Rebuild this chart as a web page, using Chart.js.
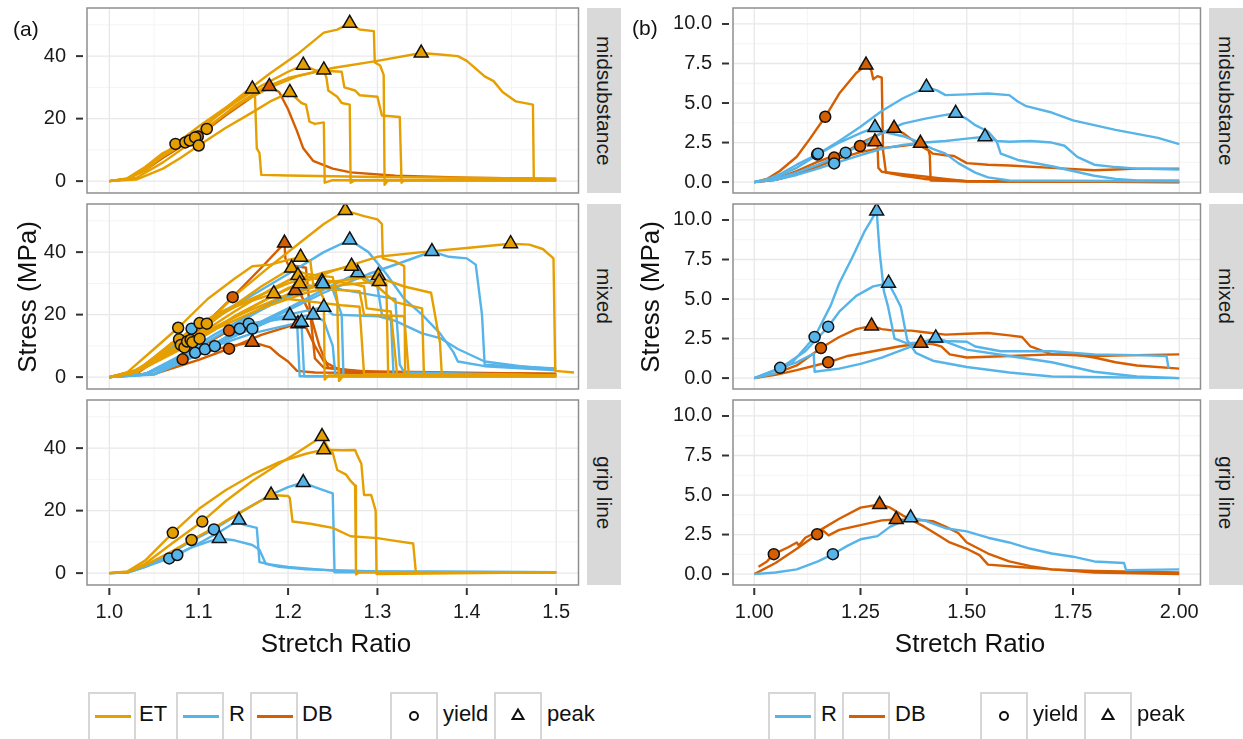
<!DOCTYPE html>
<html><head><meta charset="utf-8">
<script src="https://cdn.jsdelivr.net/npm/chart.js@4.4.1/dist/chart.umd.min.js"></script>
<style>
html,body{margin:0;padding:0;background:#fff;}
body{width:1243px;height:739px;overflow:hidden;position:relative;font-family:"Liberation Sans",Arial,Helvetica,sans-serif;color:#111;}
canvas{position:absolute;}
.strip{position:absolute;background:#D9D9D9;display:flex;align-items:center;justify-content:center;}
.strip span{writing-mode:vertical-rl;font-size:21px;color:#1a1a1a;white-space:nowrap;}
.lbl{position:absolute;font-size:21px;line-height:1;white-space:nowrap;}
.ttl{position:absolute;font-size:26px;line-height:1;white-space:nowrap;transform:translate(-50%,-50%);}
.ttlv{position:absolute;font-size:26px;line-height:1;white-space:nowrap;transform:translate(-50%,-50%) rotate(-90deg);}
.lgbox{position:absolute;top:692px;width:44px;height:60px;border:2px solid #D6D6D6;box-sizing:content-box;}
.lgline{position:absolute;left:5px;top:21px;width:36px;height:2.5px;}
.lgtxt{position:absolute;top:703px;font-size:22px;line-height:1;white-space:nowrap;}
</style></head><body>
<script>
// ---------------- shared ----------------
const COL = {ET:'#E69F00', R:'#56B4E9', DB:'#D55E00'};
const facetNames = ['midsubstance','mixed','grip line'];
const xTicksA = [1.0,1.1,1.2,1.3,1.4,1.5];
const xMinorA = [1.05,1.15,1.25,1.35,1.45];
const yTicksA = [0,20,40];
const yMinorA = [10,30,50];
const xTicksB = [1.0,1.25,1.5,1.75,2.0];
const xMinorB = [1.125,1.375,1.625,1.875];
const yTicksB = [0,2.5,5,7.5,10];
const yMinorB = [1.25,3.75,6.25,8.75];

// ---------------- (a) midsubstance ----------------
const aMidET = [
 [[1,0],[1.02,0.6],[1.04,3.5],[1.06,8],[1.074,11.9],[1.1,17.5],[1.13,23.5],[1.16,29.5],[1.163,27],[1.165,10.5],[1.168,9],[1.17,2],[1.2,1.8],[1.3,1.3],[1.5,0.8]],
 [[1,0],[1.03,0.5],[1.06,4],[1.08,7.5],[1.1,11.4],[1.13,17],[1.16,22],[1.18,25.5],[1.202,28.4],[1.215,25],[1.22,24.5],[1.224,19],[1.23,18.3],[1.24,18.8],[1.241,-0.5],[1.25,0.3],[1.5,0.3]],
 [[1,0],[1.02,0.8],[1.04,4],[1.06,8.5],[1.085,12.4],[1.11,18.5],[1.14,25],[1.17,30.5],[1.2,35],[1.217,37.1],[1.23,35.5],[1.26,35],[1.263,30],[1.275,29],[1.28,27.5],[1.3,27],[1.305,21],[1.325,20.5],[1.327,-0.5],[1.33,0.3],[1.5,0.3]],
 [[1,0],[1.02,0.7],[1.04,3.8],[1.06,8],[1.09,13],[1.12,19.5],[1.15,25.5],[1.18,30],[1.21,33.5],[1.24,35.6],[1.243,33],[1.245,29],[1.255,27],[1.26,25],[1.269,24.5],[1.27,-0.5],[1.275,0.3],[1.5,0.3]],
 [[1,0],[1.02,0.9],[1.04,4.5],[1.06,9],[1.096,14],[1.12,21],[1.15,28],[1.18,34.5],[1.21,40.5],[1.24,47.5],[1.255,48.5],[1.269,50.5],[1.28,48.5],[1.296,48],[1.297,38],[1.303,37],[1.307,34],[1.308,-1.2],[1.312,0.3],[1.5,0.3]],
 [[1,0],[1.03,1],[1.06,6],[1.09,12],[1.109,16.7],[1.14,24],[1.17,29.5],[1.2,33],[1.25,36.2],[1.3,38.5],[1.349,41],[1.37,40.5],[1.39,40],[1.4,38.5],[1.41,36],[1.42,33.5],[1.43,32],[1.44,28.5],[1.455,25.5],[1.474,24.5],[1.475,0.5],[1.5,0.5]]
];
const aMidDB = [
 [[1,0],[1.02,0.7],[1.04,3.5],[1.06,7.5],[1.08,11],[1.099,14.3],[1.13,21],[1.16,27],[1.179,30.3],[1.19,28.5],[1.2,23],[1.21,16],[1.217,10.5],[1.228,6.5],[1.25,4],[1.27,2.8],[1.32,1.7],[1.4,1.1],[1.5,0.7]]
];
const aMidYieldET = [[1.074,11.9],[1.085,12.4],[1.09,13.0],[1.096,14.0],[1.1,11.4],[1.109,16.7]];
const aMidYieldDB = [[1.099,14.3]];

// ---------------- (a) mixed ----------------
const aMixET = [
 [[1,0],[1.02,0.8],[1.04,4],[1.07,11],[1.109,17.1],[1.14,26],[1.18,35.5],[1.22,44.5],[1.24,49],[1.264,53.3],[1.285,51.5],[1.3,50.5],[1.305,49],[1.306,38],[1.32,37],[1.33,35.5],[1.331,1],[1.4,0.6],[1.5,0.5]],
 [[1,0],[1.03,1.5],[1.07,8],[1.101,12.3],[1.15,21],[1.2,28.5],[1.25,34],[1.3,38.5],[1.35,40],[1.4,41.3],[1.449,42.7],[1.47,42.4],[1.485,41],[1.497,38],[1.499,2],[1.52,1.5]],
 [[1,0],[1.02,1.5],[1.05,9],[1.077,15.8],[1.11,25],[1.14,31.5],[1.16,35.5],[1.18,36],[1.2,37.5],[1.214,38.4],[1.225,37],[1.228,30],[1.235,28],[1.24,25],[1.241,-0.8],[1.245,0.5],[1.5,0.3]],
 [[1,0],[1.03,2],[1.06,7.5],[1.087,11.4],[1.13,21],[1.17,29],[1.204,34.9],[1.22,33],[1.25,32],[1.255,25],[1.257,-1.2],[1.262,0.5],[1.5,0.4]],
 [[1,0],[1.03,1.5],[1.06,7],[1.091,11.9],[1.14,21],[1.18,28],[1.211,32.5],[1.24,31],[1.27,30],[1.285,29],[1.288,22],[1.315,21],[1.322,1],[1.5,0.5]],
 [[1,0],[1.03,1.5],[1.06,7],[1.093,11.2],[1.14,19.5],[1.18,25.5],[1.213,29.9],[1.25,28],[1.28,27.5],[1.285,20],[1.33,19.5],[1.335,1],[1.5,0.5]],
 [[1,0],[1.03,2],[1.06,8.5],[1.078,12.1],[1.1,16],[1.15,24],[1.2,30],[1.24,33.5],[1.271,35.5],[1.285,31],[1.3,29],[1.32,24],[1.35,22],[1.352,1],[1.5,0.5]],
 [[1,0],[1.03,1.5],[1.06,6.5],[1.08,10.3],[1.1,13.5],[1.15,20.5],[1.2,26.5],[1.25,30.5],[1.301,32.5],[1.31,31],[1.33,29],[1.36,27],[1.37,11],[1.372,1],[1.5,0.5]],
 [[1,0],[1.04,3],[1.084,9.5],[1.12,15.5],[1.17,22],[1.22,27],[1.26,29.5],[1.302,30.6],[1.31,30],[1.312,1],[1.5,0.5]],
 [[1,0],[1.03,2],[1.06,8],[1.101,17.3],[1.13,21.5],[1.16,24.5],[1.184,26.7],[1.2,25],[1.23,24],[1.26,23],[1.28,22.5],[1.285,1],[1.5,0.5]]
];
const aMixR = [
 [[1,0],[1.03,1.5],[1.06,7],[1.092,15.5],[1.12,20],[1.15,24.5],[1.2,33],[1.24,40],[1.269,43.9],[1.29,40],[1.31,33],[1.33,25],[1.35,20],[1.37,14],[1.385,8],[1.39,5],[1.42,3.5],[1.46,2.8],[1.5,2.2]],
 [[1,0],[1.04,1],[1.07,4.5],[1.096,7.8],[1.14,13],[1.19,20],[1.24,27],[1.29,33],[1.33,37],[1.361,40.2],[1.38,38.5],[1.4,38],[1.41,36],[1.417,20],[1.42,4],[1.45,3.5],[1.5,2.8]],
 [[1,0],[1.04,1],[1.08,6.5],[1.12,13],[1.16,20],[1.2,26],[1.238,30.6],[1.25,28],[1.26,20],[1.262,0.3],[1.5,0.3]],
 [[1,0],[1.04,1],[1.07,4.5],[1.107,8.9],[1.15,15],[1.2,22],[1.24,28],[1.278,33.4],[1.29,31],[1.3,29],[1.305,20],[1.315,19],[1.318,1],[1.5,0.5]],
 [[1,0],[1.04,1],[1.08,5],[1.12,11],[1.146,15.5],[1.2,20],[1.24,22.4],[1.25,20],[1.3,19.5],[1.32,18],[1.35,14],[1.37,12.5],[1.39,9],[1.42,5],[1.46,3.5],[1.5,2.5]],
 [[1,0],[1.05,1],[1.09,6],[1.13,12],[1.16,15.5],[1.18,18],[1.202,19.7],[1.21,18],[1.213,0.3],[1.5,0.3]],
 [[1,0],[1.05,1],[1.09,6],[1.12,11],[1.156,17.1],[1.19,18.5],[1.228,19.9],[1.24,18],[1.25,10],[1.253,0.5],[1.5,0.4]],
 [[1,0],[1.05,0.8],[1.09,6],[1.118,9.9],[1.16,14],[1.19,16],[1.215,17.6],[1.218,0.3],[1.5,0.3]],
 [[1,0],[1.04,1],[1.08,7],[1.12,14],[1.17,22],[1.21,27],[1.239,29.9],[1.26,28],[1.3,26],[1.32,25],[1.325,4],[1.33,1.5],[1.5,0.5]]
];
const aMixDB = [
 [[1,0],[1.03,1],[1.06,7],[1.1,15],[1.138,25.6],[1.17,35],[1.196,42.9],[1.197,38],[1.2,36],[1.22,35],[1.225,20],[1.23,6],[1.24,3],[1.3,1.5],[1.5,1]],
 [[1,0],[1.04,1],[1.08,6.5],[1.11,11],[1.134,14.9],[1.17,22],[1.208,27.7],[1.215,26],[1.225,20],[1.235,10],[1.245,3],[1.3,1],[1.5,0.5]],
 [[1,0],[1.05,1],[1.1,5.5],[1.134,9.1],[1.17,13.5],[1.211,17.1],[1.22,16],[1.23,10],[1.24,5],[1.26,2],[1.5,1]],
 [[1,0],[1.04,1],[1.082,5.7],[1.12,9],[1.16,11.2],[1.18,9.5],[1.19,7],[1.2,5],[1.21,2],[1.23,1.5],[1.5,1]]
];
const aMixYieldET = [[1.077,15.8],[1.078,12.1],[1.08,10.3],[1.084,9.5],[1.087,11.4],[1.091,11.9],[1.093,11.2],[1.101,17.3],[1.101,12.3],[1.109,17.1]];
const aMixYieldR = [[1.092,15.5],[1.096,7.8],[1.107,8.9],[1.118,9.9],[1.146,15.5],[1.156,17.1],[1.16,15.5]];
const aMixYieldDB = [[1.082,5.7],[1.134,9.1],[1.134,14.9],[1.138,25.6]];

// ---------------- (a) grip line ----------------
const aGripET = [
 [[1,0],[1.02,0.5],[1.04,4],[1.071,12.9],[1.1,20.5],[1.13,26.5],[1.16,31.5],[1.19,35.5],[1.22,38.2],[1.24,39.5],[1.26,39.3],[1.275,39.4],[1.277,38],[1.282,35],[1.285,25],[1.293,25],[1.298,20],[1.299,-0.3],[1.5,0.3]],
 [[1,0],[1.02,0.3],[1.04,3],[1.07,9.5],[1.104,16.5],[1.13,23],[1.16,29.5],[1.19,35],[1.21,38.5],[1.238,43.7],[1.245,40],[1.25,38.5],[1.255,33],[1.265,31.5],[1.27,29.5],[1.275,28],[1.276,-0.4],[1.28,0.3],[1.5,0.3]],
 [[1,0],[1.02,0.3],[1.04,2.5],[1.07,7],[1.092,10.6],[1.12,15],[1.15,20],[1.181,25],[1.2,24.7],[1.202,24],[1.205,16.5],[1.225,15.8],[1.24,15],[1.25,14.5],[1.27,11.8],[1.3,11.2],[1.32,10.3],[1.34,9.5],[1.343,0.3],[1.5,0.3]]
];
const aGripR = [
 [[1,0],[1.02,0.2],[1.04,2],[1.07,6.5],[1.09,10],[1.117,14],[1.15,20],[1.18,25],[1.2,27.5],[1.217,29],[1.23,27.5],[1.245,26],[1.25,25.5],[1.252,0.3],[1.5,0.3]],
 [[1,0],[1.02,0.2],[1.04,2],[1.06,4.5],[1.076,5.8],[1.1,9.5],[1.125,13.5],[1.145,17],[1.15,15.5],[1.165,14.5],[1.168,3.5],[1.18,2.8],[1.2,2],[1.25,0.8],[1.3,0.5],[1.5,0.3]],
 [[1,0],[1.02,0.2],[1.04,2],[1.067,4.7],[1.09,8],[1.11,10],[1.123,11.1],[1.14,10.5],[1.16,9],[1.168,7.5],[1.175,3],[1.19,2],[1.22,1.2],[1.3,0.5],[1.5,0.3]]
];
const aGripYieldET = [[1.071,12.9],[1.092,10.6],[1.104,16.5]];
const aGripYieldR = [[1.067,4.7],[1.076,5.8],[1.117,14.0]];

// ---------------- (b) midsubstance ----------------
const bMidR = [
 [[1,0],[1.03,0.15],[1.06,0.5],[1.1,1.1],[1.15,1.77],[1.2,2.6],[1.25,3.5],[1.3,4.5],[1.35,5.3],[1.405,6.0],[1.43,5.8],[1.45,5.5],[1.5,5.55],[1.55,5.6],[1.6,5.5],[1.62,5.1],[1.64,4.8],[1.7,4.4],[1.75,3.9],[1.8,3.6],[1.85,3.3],[1.9,3.05],[1.95,2.8],[2,2.4]],
 [[1,0],[1.05,0.2],[1.1,0.6],[1.15,1.1],[1.215,1.86],[1.26,2.5],[1.3,3.1],[1.35,3.7],[1.4,4.0],[1.44,4.2],[1.474,4.35],[1.5,4.0],[1.52,3.6],[1.55,3.2],[1.57,2.6],[1.58,1.8],[1.62,1.4],[1.7,1.0],[1.75,0.7],[1.8,0.4],[1.85,0.2],[1.9,0.1],[2,0.1]],
 [[1,0],[1.05,0.15],[1.1,0.45],[1.15,0.85],[1.188,1.18],[1.25,1.7],[1.3,2.1],[1.35,2.35],[1.4,2.5],[1.45,2.6],[1.5,2.75],[1.543,2.87],[1.57,2.6],[1.6,2.55],[1.65,2.6],[1.7,2.5],[1.73,2.3],[1.76,1.6],[1.8,1.1],[1.85,0.95],[1.9,0.85],[2,0.8]],
 [[1,0],[1.05,0.3],[1.1,0.9],[1.15,1.75],[1.2,2.5],[1.25,3.1],[1.284,3.46],[1.3,3.2],[1.35,2.9],[1.38,2.6],[1.42,2.1],[1.45,1.8],[1.48,1.2],[1.52,0.6],[1.55,0.3],[1.6,0.1],[2,0.05]]
];
const bMidDB = [
 [[1,0],[1.03,0.2],[1.06,0.7],[1.1,1.6],[1.13,2.7],[1.167,4.13],[1.2,5.6],[1.24,6.9],[1.263,7.4],[1.275,7.1],[1.28,6.5],[1.29,6.7],[1.3,6.6],[1.303,2],[1.31,0.6],[1.35,0.4],[1.4,0.2],[1.5,0.05],[2,0]],
 [[1,0],[1.05,0.15],[1.1,0.5],[1.15,1.0],[1.188,1.55],[1.22,2.0],[1.26,2.6],[1.3,3.1],[1.329,3.4],[1.35,3.1],[1.37,2.7],[1.39,2.3],[1.41,2.0],[1.413,1.7],[1.415,0.1],[1.5,0.05],[2,0]],
 [[1,0],[1.05,0.15],[1.1,0.5],[1.15,1.0],[1.2,1.5],[1.25,1.9],[1.3,2.15],[1.35,2.3],[1.391,2.45],[1.42,1.8],[1.45,1.7],[1.47,1.65],[1.5,1.2],[1.55,1.1],[1.6,1.05],[1.7,0.9],[1.8,0.75],[1.85,0.8],[1.9,0.85],[2,0.85]],
 [[1,0],[1.05,0.2],[1.1,0.7],[1.15,1.3],[1.2,1.8],[1.249,2.28],[1.284,2.55],[1.29,2.4],[1.292,0.9],[1.3,0.65],[1.35,0.5],[1.4,0.35],[1.45,0.2],[1.5,0.05],[2,0]]
];
const bMidYieldR = [[1.148,1.75],[1.15,1.8],[1.188,1.18],[1.215,1.86]];
const bMidYieldDB = [[1.167,4.13],[1.188,1.55],[1.249,2.28]];

// ---------------- (b) mixed ----------------
const bMixR = [
 [[1,0],[1.05,0.3],[1.09,1.0],[1.142,2.6],[1.18,4.6],[1.2,6],[1.23,7.6],[1.26,9.3],[1.288,10.57],[1.295,8],[1.305,5.5],[1.315,4.5],[1.33,2.5],[1.36,2.2],[1.45,2.3],[1.5,1.8],[1.6,1.4],[1.7,1.0],[1.8,0.4],[1.9,0.1],[2,0]],
 [[1,0],[1.06,0.6],[1.12,1.7],[1.174,3.25],[1.2,4.2],[1.24,5.2],[1.28,5.8],[1.316,6.0],[1.33,5.3],[1.345,4.5],[1.36,2.4],[1.38,1.6],[1.42,1.1],[1.5,0.7],[1.6,0.35],[1.7,0.1],[2,0]],
 [[1,0],[1.061,0.65],[1.1,1.0],[1.14,1.55],[1.142,0.4],[1.2,0.6],[1.25,0.9],[1.3,1.3],[1.35,1.8],[1.4,2.3],[1.427,2.54],[1.45,2.35],[1.5,2.3],[1.52,2.0],[1.58,1.7],[1.7,1.7],[1.8,1.5],[1.9,1.45],[1.97,1.4],[1.975,0.6]]
];
const bMixDB = [
 [[1,0],[1.05,0.3],[1.1,0.8],[1.157,1.9],[1.2,2.6],[1.24,3.1],[1.276,3.3],[1.3,3.1],[1.33,3.0],[1.37,3.0],[1.4,2.9],[1.45,2.75],[1.5,2.8],[1.55,2.85],[1.6,2.7],[1.63,2.6],[1.65,2.0],[1.7,1.5],[1.75,1.5],[1.8,1.3],[1.85,1.0],[1.9,0.8],[2,0.6]],
 [[1,0],[1.05,0.2],[1.1,0.5],[1.174,1.0],[1.22,1.4],[1.28,1.7],[1.34,2.0],[1.392,2.2],[1.42,2.15],[1.44,2.0],[1.46,1.5],[1.5,1.3],[1.6,1.4],[1.7,1.5],[1.8,1.4],[1.9,1.45],[2,1.5]]
];
const bMixYieldR = [[1.061,0.65],[1.142,2.6],[1.174,3.25]];
const bMixYieldDB = [[1.157,1.9],[1.174,1.0]];

// ---------------- (b) grip line ----------------
const bGripR = [
 [[1,0],[1.05,0.1],[1.1,0.3],[1.15,0.8],[1.185,1.26],[1.22,1.8],[1.25,2.2],[1.29,2.4],[1.32,3.0],[1.368,3.56],[1.4,3.4],[1.45,2.9],[1.5,2.7],[1.55,2.3],[1.6,2.0],[1.65,1.6],[1.7,1.3],[1.75,1.1],[1.8,0.8],[1.87,0.7],[1.875,0.25],[2,0.3]]
];
const bGripDB = [
 [[1.01,0.46],[1.03,0.8],[1.046,1.26],[1.08,1.7],[1.1,2.0],[1.105,1.8],[1.12,2.3],[1.15,2.7],[1.2,3.5],[1.25,4.2],[1.295,4.4],[1.32,4.2],[1.35,3.7],[1.4,3.0],[1.43,2.5],[1.46,2.0],[1.5,1.6],[1.53,1.2],[1.55,0.6],[1.6,0.5],[1.7,0.3],[1.8,0.2],[2,0.1]],
 [[1,0],[1.05,0.7],[1.1,1.6],[1.148,2.52],[1.16,2.8],[1.175,2.45],[1.2,2.8],[1.25,3.1],[1.3,3.4],[1.334,3.45],[1.36,3.42],[1.4,3.4],[1.42,3.35],[1.45,3.0],[1.48,2.6],[1.5,2.0],[1.55,1.3],[1.6,0.8],[1.65,0.5],[1.7,0.3],[1.8,0.1],[2,0]]
];
const bGripYieldR = [[1.185,1.26]];
const bGripYieldDB = [[1.046,1.26],[1.148,2.52]];

// ---------------- layout ----------------
const panelTops = [8,204,400];
const PH = 185;

const panelPlugin = {
  id:'panel',
  beforeDatasetsDraw(chart, args, o){
    const ctx = chart.ctx, a = chart.chartArea, x = chart.scales.x, y = chart.scales.y;
    ctx.save();
    ctx.fillStyle = '#fff'; ctx.fillRect(a.left, a.top, a.right-a.left, a.bottom-a.top);
    const vl = (v,c,w)=>{const p=x.getPixelForValue(v); ctx.strokeStyle=c; ctx.lineWidth=w; ctx.beginPath(); ctx.moveTo(p,a.top); ctx.lineTo(p,a.bottom); ctx.stroke();};
    const hl = (v,c,w)=>{const p=y.getPixelForValue(v); if(p<a.top||p>a.bottom) return; ctx.strokeStyle=c; ctx.lineWidth=w; ctx.beginPath(); ctx.moveTo(a.left,p); ctx.lineTo(a.right,p); ctx.stroke();};
    o.xMinor.forEach(v=>vl(v,'#F4F4F4',1)); o.yMinor.forEach(v=>hl(v,'#F4F4F4',1));
    o.xMajor.forEach(v=>vl(v,'#E8E8E8',1.3)); o.yMajor.forEach(v=>hl(v,'#E8E8E8',1.3));
    ctx.restore();
  },
  afterDatasetsDraw(chart, args, o){
    const ctx = chart.ctx, a = chart.chartArea, x = chart.scales.x, y = chart.scales.y;
    ctx.save();
    ctx.strokeStyle = '#8E8E8E'; ctx.lineWidth = 1.5;
    ctx.strokeRect(a.left, a.top, a.right-a.left, a.bottom-a.top);
    ctx.strokeStyle = '#333'; ctx.lineWidth = 2;
    o.yMajor.forEach(v=>{const p=y.getPixelForValue(v); ctx.beginPath(); ctx.moveTo(a.left-11,p); ctx.lineTo(a.left-4,p); ctx.stroke();});
    if (o.bottom) o.xMajor.forEach(v=>{const p=x.getPixelForValue(v); ctx.beginPath(); ctx.moveTo(p,a.bottom+3); ctx.lineTo(p,a.bottom+10); ctx.stroke();});
    ctx.restore();
  }
};

const panels = [
 {col:'a',row:0,lines:{ET:aMidET,DB:aMidDB},yields:{ET:aMidYieldET,DB:aMidYieldDB}},
 {col:'a',row:1,lines:{ET:aMixET,R:aMixR,DB:aMixDB},yields:{ET:aMixYieldET,R:aMixYieldR,DB:aMixYieldDB}},
 {col:'a',row:2,lines:{ET:aGripET,R:aGripR},yields:{ET:aGripYieldET,R:aGripYieldR}},
 {col:'b',row:0,lines:{R:bMidR,DB:bMidDB},yields:{R:bMidYieldR,DB:bMidYieldDB}},
 {col:'b',row:1,lines:{R:bMixR,DB:bMixDB},yields:{R:bMixYieldR,DB:bMixYieldDB}},
 {col:'b',row:2,lines:{R:bGripR,DB:bGripDB},yields:{R:bGripYieldR,DB:bGripYieldDB}}
];

const FONT = '"Liberation Sans", Arial, Helvetica, sans-serif';

panels.forEach(p=>{
  const isA = p.col==='a';
  const bottom = p.row===2;
  const cLeft = isA ? 0 : 640;
  const yW = isA ? 87 : 93;
  const plotRight = isA ? 586 : 1208;
  const W = plotRight + 2 - cLeft;
  const H = 10 + PH + (bottom ? 45 : 10);
  const cv = document.createElement('canvas');
  cv.width = W; cv.height = H;
  cv.style.left = cLeft+'px'; cv.style.top = (panelTops[p.row]-10)+'px';
  cv.style.width = W+'px'; cv.style.height = H+'px';
  document.body.appendChild(cv);

  const ds = [];
  Object.keys(p.lines).forEach(g=>{
    p.lines[g].forEach(c=>ds.push({data:c, showLine:true, borderColor:COL[g], backgroundColor:COL[g], borderWidth:2.4, pointRadius:0, pointHoverRadius:0, order:3, borderJoinStyle:'round', tension:0}));
  });
  Object.keys(p.yields).forEach(g=>{
    ds.push({data:p.yields[g], showLine:false, pointStyle:'circle', pointRadius:5.5, pointBackgroundColor:COL[g], pointBorderColor:'#111', pointBorderWidth:1.5, order:1});
  });
  Object.keys(p.lines).forEach(g=>{
    const peaks = p.lines[g].map(c=>c.reduce((m,q)=>q[1]>m[1]?q:m));
    ds.push({data:peaks, showLine:false, pointStyle:'triangle', pointRadius:8, pointBackgroundColor:COL[g], pointBorderColor:'#111', pointBorderWidth:1.5, order:0});
  });

  const xt = isA ? xTicksA : xTicksB;
  const yt = isA ? yTicksA : yTicksB;
  new Chart(cv, {
    type:'scatter',
    data:{datasets:ds},
    plugins:[panelPlugin],
    options:{
      responsive:false, animation:false, devicePixelRatio:1, events:[],
      layout:{padding:{top:10,right:2,bottom:bottom?0:10,left:0}},
      plugins:{legend:{display:false}, tooltip:{enabled:false},
        panel:{xMajor:xt, xMinor:isA?xMinorA:xMinorB, yMajor:yt, yMinor:isA?yMinorA:yMinorB, bottom:bottom}},
      scales:{
        x:{type:'linear', min:isA?0.975:0.95, max:isA?1.525:2.05, display:bottom,
           grid:{display:false, drawTicks:false}, border:{display:false},
           ticks:{font:{size:20,family:FONT}, color:'#1a1a1a', padding:15, maxRotation:0, autoSkip:false,
                  callback:(v)=> isA ? Number(v).toFixed(1) : Number(v).toFixed(2)},
           afterBuildTicks:(s)=>{s.ticks = xt.map(v=>({value:v}));},
           afterFit:(s)=>{s.height = bottom ? 45 : 0; s.paddingLeft=0; s.paddingRight=0; s.paddingTop=0; s.paddingBottom=0;}},
        y:{type:'linear', min:isA?-3.8:-0.69, max:isA?55.4:11.01,
           grid:{display:false, drawTicks:false}, border:{display:false},
           ticks:{font:{size:20,family:FONT}, color:'#1a1a1a', padding:21, autoSkip:false,
                  callback:(v)=> isA ? String(v) : Number(v).toFixed(1)},
           afterBuildTicks:(s)=>{s.ticks = yt.map(v=>({value:v}));},
           afterFit:(s)=>{s.width=yW; s.paddingLeft=0; s.paddingRight=0; s.paddingTop=0; s.paddingBottom=0;}}
      }
    }
  });
});

// ---------------- strips & text ----------------
function addDiv(cls, style, html){const d=document.createElement('div'); d.className=cls; d.setAttribute('style',style); d.innerHTML=html; document.body.appendChild(d); return d;}
panelTops.forEach((t,i)=>{
  addDiv('strip', `left:587px;top:${t}px;width:34px;height:${PH}px;`, `<span>${facetNames[i]}</span>`);
  addDiv('strip', `left:1209px;top:${t}px;width:34px;height:${PH}px;`, `<span>${facetNames[i]}</span>`);
});
addDiv('lbl','left:13px;top:18px;','(a)');
addDiv('lbl','left:632px;top:17px;','(b)');
addDiv('ttlv','left:27px;top:297px;','Stress (MPa)');
addDiv('ttlv','left:650px;top:297px;','Stress (MPa)');
addDiv('ttl','left:336px;top:643px;','Stretch Ratio');
addDiv('ttl','left:970px;top:643px;','Stretch Ratio');

// legends
function lineKey(left, g, label, textLeft){
  addDiv('lgbox', `left:${left}px;`, `<div class="lgline" style="background:${COL[g]}"></div>`);
  addDiv('lgtxt', `left:${textLeft}px;`, label);
}
function shapeKey(left, shape, label, textLeft){
  const svg = shape==='circle'
   ? '<svg width="44" height="44" style="position:absolute;left:0;top:0"><circle cx="22" cy="22" r="4" fill="none" stroke="#111" stroke-width="2"/></svg>'
   : '<svg width="44" height="44" style="position:absolute;left:0;top:0"><polygon points="22,15.5 27.5,25 16.5,25" fill="none" stroke="#111" stroke-width="2" stroke-linejoin="miter"/></svg>';
  addDiv('lgbox', `left:${left}px;`, svg);
  addDiv('lgtxt', `left:${textLeft}px;`, label);
}
lineKey(88,'ET','ET',139);
lineKey(176,'R','R',229);
lineKey(250,'DB','DB',302);
shapeKey(390,'circle','yield',443);
shapeKey(494,'triangle','peak',547);
lineKey(768,'R','R',821);
lineKey(842,'DB','DB',895);
shapeKey(980,'circle','yield',1033);
shapeKey(1084,'triangle','peak',1137);
</script>
</body></html>
